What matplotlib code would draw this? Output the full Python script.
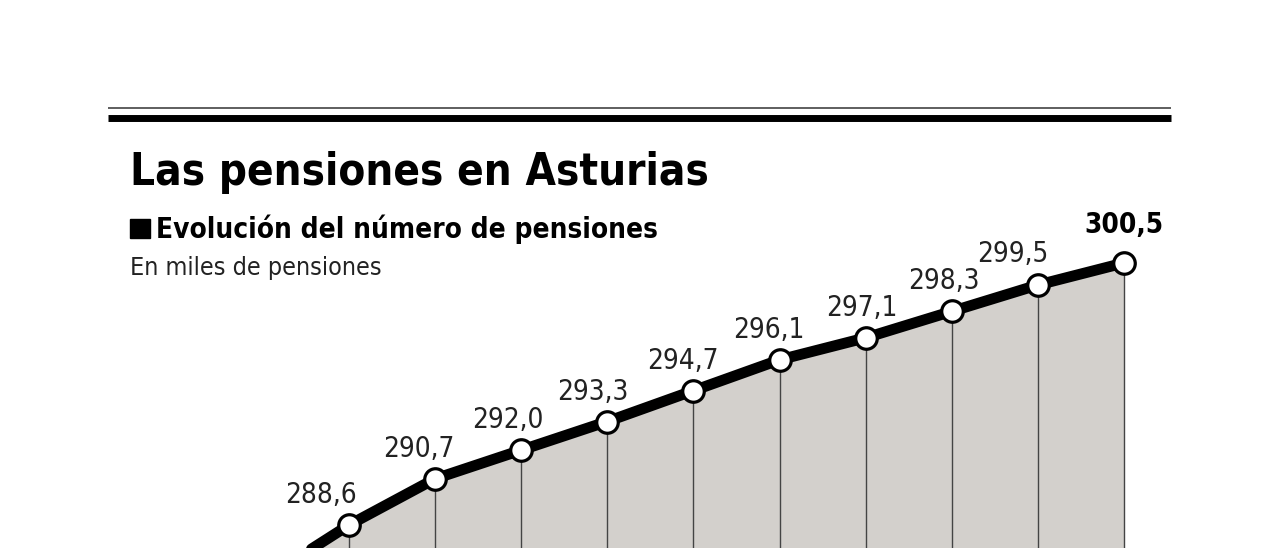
import matplotlib
matplotlib.use("Agg")
import matplotlib.pyplot as plt
from matplotlib.lines import Line2D
from matplotlib.patches import Rectangle

W, H, DPI = 1280, 548, 100

# ── Data ──────────────────────────────────────────────────────────────────────
# thousands of pensions; the first point lies below the visible crop
values = [286.1, 288.6, 290.7, 292.0, 293.3, 294.7, 296.1, 297.1, 298.3, 299.5, 300.5]
labels = ["286,1", "288,6", "290,7", "292,0", "293,3", "294,7", "296,1",
          "297,1", "298,3", "299,5", "300,5"]

# label nudges in pixels (dx, dy) relative to each marker
label_dx = [-20, -28, -16, -13, -14, -11, -11, -4, -8, -25, 0]
label_dy = [30, 30, 30, 30, 30, 30, 30, 30, 30, 31, 38]

FILL = "#d3d0cc"
FONT = "DejaVu Sans"

fig = plt.figure(figsize=(W / DPI, H / DPI), dpi=DPI)
ax = fig.add_axes([0, 0, 1, 1])
ax.axis("off")

# x: index 1 -> 349 px, step 86.1 px ; y: 288.6 -> 525 px, 22.02 px / unit
step = 86.1
x = list(range(len(values)))
x0 = 1 - 349 / step
ax.set_xlim(x0, x0 + W / step)
ppu = 22.02
ytop = 288.6 + 525 / ppu
ax.set_ylim(ytop - H / ppu, ytop)

base = ytop - H / ppu - 5
ax.fill_between(x, values, base, color=FILL, lw=0, zorder=1)
ax.vlines(x, base, values, color="#444444", lw=1.0, zorder=2)
ax.plot(x, values, color="black", lw=7.8, solid_joinstyle="round",
        solid_capstyle="round", zorder=3)
ax.plot(x, values, ls="none", marker="o", ms=15.5, mfc="white",
        mec="black", mew=2.3, zorder=4)

for i, (v, s) in enumerate(zip(values, labels)):
    last = i == len(values) - 1
    ax.annotate(s, (i, v), xytext=(label_dx[i], label_dy[i]),
                textcoords="offset pixels", ha="center", va="center",
                fontsize=20, family=FONT, stretch="condensed",
                fontweight="bold" if last else "normal",
                color="black" if last else "#222222", zorder=5)

# ── Header ────────────────────────────────────────────────────────────────────
def px(xp, yp):
    return xp / W, 1 - yp / H

fig.add_artist(Line2D([108 / W, 1171 / W], [1 - 107.5 / H] * 2,
                      color="#333333", lw=1.1, solid_capstyle="butt"))
fig.add_artist(Line2D([108 / W, 1171 / W], [1 - 117.8 / H] * 2,
                      color="black", lw=5.0, solid_capstyle="butt"))

fig.text(*px(130, 185), "Las pensiones en Asturias", fontsize=31.5,
         family=FONT, stretch="condensed", fontweight="heavy",
         ha="left", va="baseline", color="black")

fig.add_artist(Rectangle(px(130, 238), 20 / W, 19 / H, color="black",
                         transform=fig.transFigure))
fig.text(*px(156, 238.5), "Evolución del número de pensiones", fontsize=20.1,
         family=FONT, stretch="condensed", fontweight="bold",
         ha="left", va="baseline", color="black")
fig.text(*px(130, 275), "En miles de pensiones", fontsize=18,
         family=FONT, stretch="condensed",
         ha="left", va="baseline", color="#222222")

fig.savefig("out.png", dpi=DPI, facecolor="white")
